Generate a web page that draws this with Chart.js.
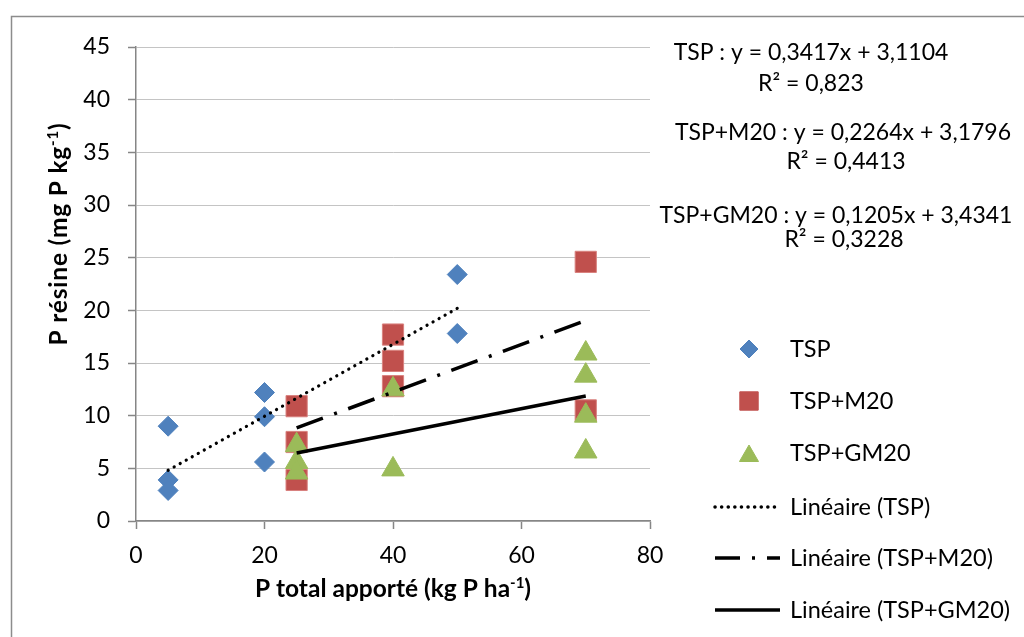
<!DOCTYPE html>
<html lang="fr">
<head>
<meta charset="utf-8">
<title>P résine vs P total apporté</title>
<script src="https://cdn.jsdelivr.net/npm/chart.js@4/dist/chart.umd.min.js"></script>
<style>
    html, body { margin: 0; padding: 0; background: #fff; }
    #wrap { position: relative; width: 1024px; height: 637px; }
</style>
</head>
<body>
<div id="wrap"><canvas id="chart"></canvas></div>
<script>
// Données
const tspX = [5, 5, 5, 20, 20, 20, 50, 50];
const tspY = [9.0, 3.9, 2.9, 12.2, 9.9, 5.6, 23.4, 17.8];
const m20X = [25, 25, 25, 40, 40, 40, 70, 70];
const m20Y = [10.9, 7.5, 3.9, 17.7, 15.2, 12.8, 24.6, 10.5];
const gm20X = [25, 25, 25, 40, 40, 70, 70, 70, 70];
const gm20Y = [7.2, 5.6, 4.6, 12.5, 4.9, 15.9, 13.8, 10.0, 6.6];

// Courbes de tendance (extrémités)
const tspTrendX = [5, 50];
const tspTrendY = [4.82, 20.19];
const m20TrendX = [25, 70];
const m20TrendY = [8.84, 19.03];
const gm20TrendX = [25, 70];
const gm20TrendY = [6.45, 11.87];

// Texte
const equations = [
    'TSP : y = 0,3417x + 3,1104', 'R² = 0,823',
    'TSP+M20 : y = 0,2264x + 3,1796', 'R² = 0,4413',
    'TSP+GM20 : y = 0,1205x + 3,4341', 'R² = 0,3228'
];
const legendLabels = ['TSP', 'TSP+M20', 'TSP+GM20', 'Linéaire (TSP)', 'Linéaire (TSP+M20)', 'Linéaire (TSP+GM20)'];

const FONT = 'Lato, "Open Sans", sans-serif';
const BLUE = '#4f81bd';
const RED = '#c0504d';
const GREEN = '#9bbb59';

function toPoints(xs, ys) {
    return xs.map((x, i) => ({ x: x, y: ys[i] }));
}

// texte gras avec exposant, ligne de base alphabétique
function drawRich(ctx, parts, cx, baseY, size, spacing) {
    ctx.letterSpacing = (spacing || 0) + 'px';
    let total = 0;
    parts.forEach(p => {
        ctx.font = 'bold ' + (p.sup ? Math.round(size * 0.62) : size) + 'px ' + FONT;
        p.w = ctx.measureText(p.t).width;
        total += p.w;
    });
    let x = cx - total / 2;
    ctx.textBaseline = 'alphabetic';
    ctx.textAlign = 'left';
    parts.forEach(p => {
        ctx.font = 'bold ' + (p.sup ? Math.round(size * 0.62) : size) + 'px ' + FONT;
        ctx.fillText(p.t, x, p.sup ? baseY - size * 0.36 : baseY);
        x += p.w;
    });
    ctx.letterSpacing = '0px';
}

const decorPlugin = {
    id: 'decor',
    beforeDraw(chart) {
        const ctx = chart.ctx;
        ctx.save();
        ctx.strokeStyle = '#8c8c8c';
        ctx.lineWidth = 1.5;
        ctx.strokeRect(11.5, 16.5, 1100, 700);
        ctx.restore();
    },
    afterDraw(chart) {
        const ctx = chart.ctx;
        ctx.save();
        ctx.fillStyle = '#000';

        // titres des axes
        drawRich(ctx, [{ t: 'P total apporté (kg P ha' }, { t: '-1', sup: true }, { t: ')' }], 393, 597, 24.5, 0);
        ctx.save();
        ctx.translate(67, 234);
        ctx.rotate(-Math.PI / 2);
        drawRich(ctx, [{ t: 'P résine (mg P kg' }, { t: '-1', sup: true }, { t: ')' }], 0, 0, 24.5, 0.8);
        ctx.restore();

        // équations
        const eqPos = [[811, 53], [811, 84], [843, 133], [846, 162], [836, 216], [844, 240]];
        ctx.font = '23px ' + FONT;
        ctx.textAlign = 'center';
        ctx.textBaseline = 'middle';
        equations.forEach((t, i) => ctx.fillText(t, eqPos[i][0], eqPos[i][1]));

        // légende
        const rows = [349, 401, 453, 507, 558, 610];
        const markers = [
            { style: 'rectRot', r: 9, c: BLUE },
            { style: 'rect', r: 13, c: RED },
            { style: 'triangle', r: 11, c: GREEN }
        ];
        markers.forEach((m, i) => {
            ctx.fillStyle = m.c;
            ctx.strokeStyle = m.c;
            Chart.helpers.drawPoint(ctx, { pointStyle: m.style, radius: m.r, rotation: 0, borderWidth: 1 }, 749, rows[i] + (m.style === 'triangle' ? 3 : 0));
        });
        const dashes = [[0.1, 6.5], [25, 12, 3, 12], []];
        ctx.strokeStyle = '#000';
        dashes.forEach((d, i) => {
            ctx.beginPath();
            ctx.lineWidth = 3.5;
            ctx.lineCap = i === 0 ? 'round' : 'butt';
            ctx.setLineDash(d);
            ctx.moveTo(715, rows[3 + i]);
            ctx.lineTo(780, rows[3 + i]);
            ctx.stroke();
        });
        ctx.setLineDash([]);
        ctx.fillStyle = '#000';
        ctx.font = '23.5px ' + FONT;
        ctx.textAlign = 'left';
        ctx.textBaseline = 'middle';
        legendLabels.forEach((t, i) => ctx.fillText(t, 790, rows[i]));
        ctx.restore();
    }
};

new Chart(document.getElementById('chart'), {
    type: 'scatter',
    data: {
        datasets: [
            {
                label: 'TSP', data: toPoints(tspX, tspY), order: 2,
                pointStyle: 'rectRot', pointRadius: 10, backgroundColor: BLUE, borderColor: BLUE, borderWidth: 1
            },
            {
                label: 'TSP+M20', data: toPoints(m20X, m20Y), order: 2,
                pointStyle: 'rect', pointRadius: 15, backgroundColor: RED, borderColor: '#d9827f', borderWidth: 1
            },
            {
                label: 'TSP+GM20', data: toPoints(gm20X, gm20Y), order: 1,
                pointStyle: 'triangle', pointRadius: 13, backgroundColor: GREEN, borderColor: GREEN, borderWidth: 1
            },
            {
                label: 'Linéaire (TSP)', data: toPoints(tspTrendX, tspTrendY), order: 0,
                showLine: true, pointRadius: 0, borderColor: '#000', borderWidth: 3.2,
                borderDash: [0.1, 6.8], borderCapStyle: 'round'
            },
            {
                label: 'Linéaire (TSP+M20)', data: toPoints(m20TrendX, m20TrendY), order: 0,
                showLine: true, pointRadius: 0, borderColor: '#000', borderWidth: 3.5,
                borderDash: [28, 12, 3, 12]
            },
            {
                label: 'Linéaire (TSP+GM20)', data: toPoints(gm20TrendX, gm20TrendY), order: 0,
                showLine: true, pointRadius: 0, borderColor: '#000', borderWidth: 3.5
            }
        ]
    },
    options: {
        responsive: true,
        maintainAspectRatio: false,
        animation: false,
        layout: { padding: { left: 0, top: 47, right: 374, bottom: 0 } },
        plugins: {
            legend: { display: false },
            tooltip: { enabled: false },
            title: { display: false }
        },
        scales: {
            x: {
                type: 'linear', min: 0, max: 80,
                ticks: { stepSize: 20, color: '#000', padding: 13, font: { family: FONT, size: 23 } },
                grid: { drawOnChartArea: false, tickLength: 8, tickColor: '#868686', tickWidth: 1.5 },
                border: { color: '#868686', width: 1.5 },
                afterFit(s) { s.height = 116; }
            },
            y: {
                min: 0, max: 45,
                ticks: { stepSize: 5, color: '#000', padding: 18, font: { family: FONT, size: 23 } },
                grid: { color: '#c4c4c4', lineWidth: 1, borderDash: [4, 2], tickLength: 8, tickColor: '#868686', tickWidth: 1.5, tickBorderDash: [] },
                border: { color: '#868686', width: 1.5 },
                afterFit(s) { s.width = 136; }
            }
        }
    },
    plugins: [decorPlugin]
});
</script>
</body>
</html>
